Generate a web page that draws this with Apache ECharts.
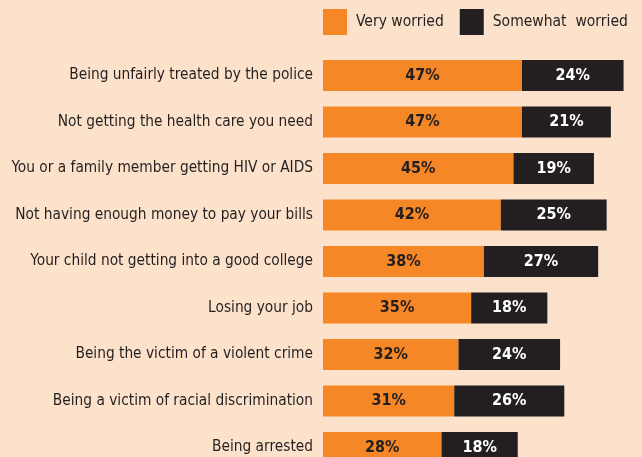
<!DOCTYPE html>
<html><head><meta charset="utf-8">
<script src="https://cdn.jsdelivr.net/npm/echarts@6/dist/echarts.min.js"></script>
<style>html,body{margin:0;padding:0;background:#fde2cb;}#c{width:642px;height:457px;}</style>
</head><body><div id="c"></div>
<script>
const categories = [
  "Being unfairly treated by the police",
  "Not getting the health care you need",
  "You or a family member getting HIV or AIDS",
  "Not having enough money to pay your bills",
  "Your child not getting into a good college",
  "Losing your job",
  "Being the victim of a violent crime",
  "Being a victim of racial discrimination",
  "Being arrested"
];
const veryWorried = [47, 47, 45, 42, 38, 35, 32, 31, 28];
const somewhatWorried = [24, 21, 19, 25, 27, 18, 24, 26, 18];
const seriesNames = ["Very worried", "Somewhat  worried"];

const FONT = "'DejaVu Sans Condensed', 'Liberation Sans', sans-serif";
const chart = echarts.init(document.getElementById('c'));
chart.setOption({
  backgroundColor: '#fde2cb',
  animation: false,
  legend: {
    orient: 'horizontal',
    left: 323, top: 9, width: 400, padding: 0,
    itemWidth: 24, itemHeight: 26, itemGap: 16,
    icon: 'rect',
    textStyle: { fontFamily: FONT, fontSize: 15.5, color: '#231f20', padding: [0, 0, 0, 4] },
    data: seriesNames
  },
  grid: { left: 323, top: 52.25, width: 317.5, height: 418.5, containLabel: false, outerBoundsMode: 'none' },
  xAxis: { type: 'value', min: 0, max: 75, show: false },
  yAxis: {
    type: 'category', data: categories, inverse: true,
    axisLine: { show: false }, axisTick: { show: false },
    axisLabel: { fontFamily: FONT, fontSize: 15.3, color: '#231f20', margin: 10 }
  },
  series: [
    {
      name: seriesNames[0], type: 'bar', stack: 's', data: veryWorried,
      barWidth: 31, itemStyle: { color: '#f58727' },
      label: { show: true, position: 'inside', formatter: '{c}%', fontFamily: FONT, fontWeight: 'bold', fontSize: 16, color: '#231f20' }
    },
    {
      name: seriesNames[1], type: 'bar', stack: 's', data: somewhatWorried,
      barWidth: 31, itemStyle: { color: '#231f20' },
      label: { show: true, position: 'inside', formatter: '{c}%', fontFamily: FONT, fontWeight: 'bold', fontSize: 16, color: '#ffffff' }
    }
  ]
});
</script></body></html>
